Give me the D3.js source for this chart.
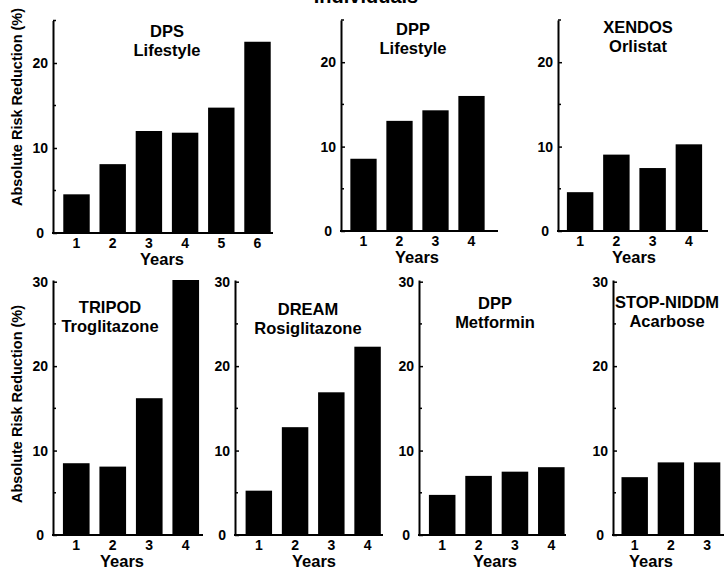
<!DOCTYPE html>
<html>
<head>
<meta charset="utf-8">
<script src="https://cdn.jsdelivr.net/npm/d3@7"></script>
<style>
  body { margin: 0; background: #fff; }
  svg { display: block; }
  text { font-family: "Liberation Sans", Arial, sans-serif; font-weight: bold; fill: #000; }
</style>
</head>
<body>
<div class="chart"></div>
<script>
// data
var years6 = ['1', '2', '3', '4', '5', '6'];
var years4 = ['1', '2', '3', '4'];
var years3 = ['1', '2', '3'];

var dpsLifestyle = [4.55, 8.1, 12.0, 11.8, 14.75, 22.5];
var dppLifestyle = [8.56, 13.05, 14.3, 16.0];
var xendosOrlistat = [4.6, 9.05, 7.46, 10.27];
var tripodTroglitazone = [8.5, 8.1, 16.2, 30.2];
var dreamRosiglitazone = [5.25, 12.77, 16.9, 22.3];
var dppMetformin = [4.75, 7.0, 7.5, 8.03];
var stopAcarbose = [6.85, 8.6, 8.6];

var topTicks = [0, 10, 20];
var bottomTicks = [0, 10, 20, 30];
var minorTicks = [5, 15, 25];

var yTitle = 'Absolute Risk Reduction (%)';
var xTitle = 'Years';

var width = 724, height = 570;

var svg = d3.select('.chart')
  .append('svg')
    .attr('width', width)
    .attr('height', height);

// page title, mostly cut off at the top edge
svg.append('text')
  .attr('x', 366).attr('y', 3)
  .attr('text-anchor', 'middle')
  .style('font-size', '20px')
  .text('Individuals');

var panels = [
  { study: 'DPS', arm: 'Lifestyle', years: years6, values: dpsLifestyle, ticks: topTicks, ymax: 25,
    axisX: 53, base: 233, top: 20.5, band: [58.4, 275.6], end: 273, tx: 167, ty: 37, yearsX: 162, yLabel: 107 },
  { study: 'DPP', arm: 'Lifestyle', years: years4, values: dppLifestyle, ticks: topTicks, ymax: 25,
    axisX: 341, base: 231, top: 20, band: [345.5, 489.5], end: 498, tx: 413, ty: 35, yearsX: 417 },
  { study: 'XENDOS', arm: 'Orlistat', years: years4, values: xendosOrlistat, ticks: topTicks, ymax: 25,
    axisX: 558, base: 231, top: 20, band: [562, 707], end: 708, tx: 638, ty: 33, yearsX: 634 },
  { study: 'TRIPOD', arm: 'Troglitazone', years: years4, values: tripodTroglitazone, ticks: bottomTicks, ymax: 30.2,
    axisX: 53, base: 535, top: 280, band: [58, 204], end: 203, tx: 110, ty: 313, yearsX: 122, yLabel: 404 },
  { study: 'DREAM', arm: 'Rosiglitazone', years: years4, values: dreamRosiglitazone, ticks: bottomTicks, ymax: 30.2,
    axisX: 235, base: 535, top: 280, band: [240.7, 385.7], end: 383, tx: 308, ty: 315, yearsX: 314 },
  { study: 'DPP', arm: 'Metformin', years: years4, values: dppMetformin, ticks: bottomTicks, ymax: 30.2,
    axisX: 419, base: 535, top: 280, band: [424, 569.5], end: 566, tx: 495, ty: 309, yearsX: 495 },
  { study: 'STOP-NIDDM', arm: 'Acarbose', years: years3, values: stopAcarbose, ticks: bottomTicks, ymax: 30.2,
    axisX: 613, base: 535, top: 280, band: [616.6, 725.2], end: 726, tx: 667, ty: 308, yearsX: 651 }
];

panels.forEach(function (p) {
  var g = svg.append('g');

  var x = d3.scaleBand()
    .domain(p.years)
    .range(p.band)
    .paddingInner(0.27)
    .paddingOuter(0.135);

  var y = d3.scaleLinear()
    .domain([0, p.ymax])
    .range([p.base, p.top]);

  var data = p.years.map(function (yr, i) { return { year: yr, value: p.values[i] }; });

  g.selectAll('.bar')
    .data(data)
    .enter()
    .append('rect')
      .attr('class', 'bar')
      .attr('x', d => x(d.year))
      .attr('width', x.bandwidth())
      .attr('y', d => y(d.value))
      .attr('height', d => y(0) - y(d.value))
      .style('fill', '#000');

  // y axis, ticks pointing inward
  var yAxis = g.append('g')
    .attr('transform', 'translate(' + p.axisX + ',0)')
    .call(d3.axisLeft(y).tickValues(p.ticks).tickSizeInner(-4).tickSizeOuter(0).tickPadding(5));
  yAxis.select('.domain').style('stroke-width', 2);
  yAxis.selectAll('.tick line').style('stroke-width', 1.5);
  yAxis.selectAll('.tick text')
    .style('font-size', '14px')
    .attr('dx', d => d === 0 ? -4 : 0);

  // minor ticks
  g.selectAll('.minor')
    .data(minorTicks.filter(v => v <= p.ymax))
    .enter()
    .append('line')
      .attr('x1', p.axisX).attr('x2', p.axisX + 3)
      .attr('y1', d => y(d)).attr('y2', d => y(d))
      .style('stroke', '#000')
      .style('stroke-width', 1.5);

  // x axis labels, baseline drawn on its own
  var xAxis = g.append('g')
    .attr('transform', 'translate(0,' + p.base + ')')
    .call(d3.axisBottom(x).tickSize(0).tickPadding(5));
  xAxis.select('.domain').remove();
  xAxis.selectAll('.tick text').style('font-size', '14px');

  g.append('line')
    .attr('x1', p.axisX - 1).attr('x2', p.end)
    .attr('y1', p.base).attr('y2', p.base)
    .style('stroke', '#000')
    .style('stroke-width', 2);

  g.append('text')
    .attr('x', p.yearsX).attr('y', p.base + 32)
    .attr('text-anchor', 'middle')
    .style('font-size', '16.5px')
    .text(xTitle);

  var title = g.append('text')
    .attr('text-anchor', 'middle')
    .style('font-size', '16.5px');
  title.append('tspan').attr('x', p.tx).attr('y', p.ty).text(p.study);
  title.append('tspan').attr('x', p.tx).attr('y', p.ty + 19).text(p.arm);

  if (p.yLabel) {
    g.append('text')
      .attr('transform', 'translate(17,' + p.yLabel + ') rotate(-90)')
      .attr('text-anchor', 'middle')
      .attr('dominant-baseline', 'central')
      .style('font-size', '14.5px')
      .text(yTitle);
  }
});
</script>
</body>
</html>
